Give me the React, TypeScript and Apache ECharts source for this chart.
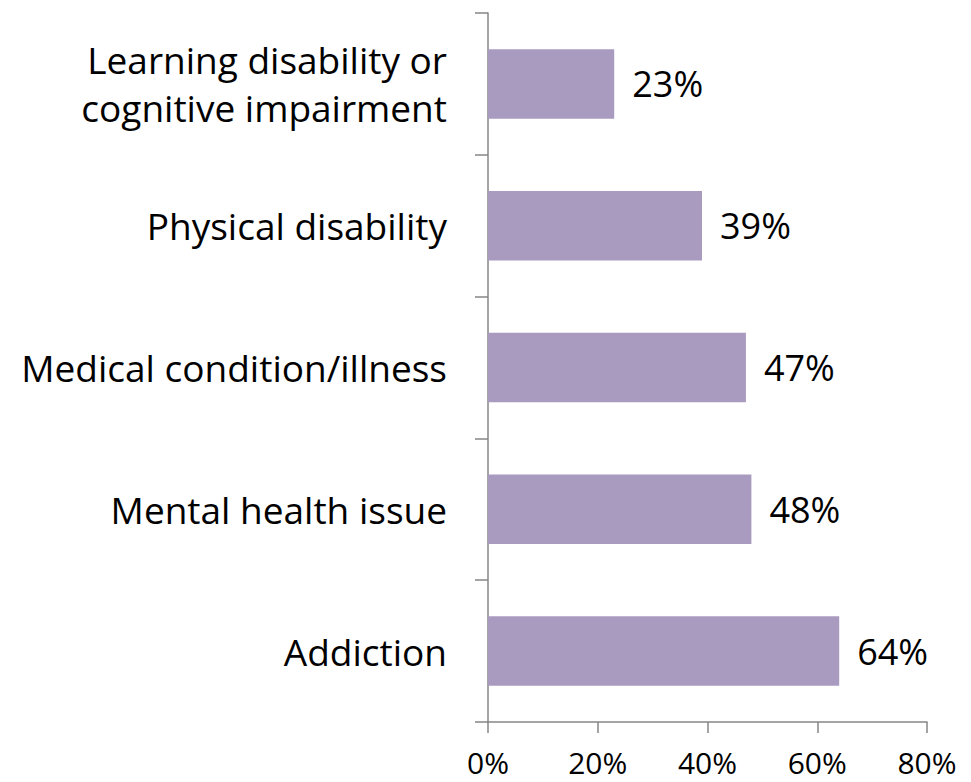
import React, { useEffect, useRef } from "react";
import * as echarts from "echarts";

const categories = [
  "Learning disability or\ncognitive impairment",
  "Physical disability",
  "Medical condition/illness",
  "Mental health issue",
  "Addiction",
];
const values = [23, 39, 47, 48, 64];
const xTicks = { min: 0, max: 80, interval: 20 };

const FONT = "Open Sans";

export default function App() {
  const ref = useRef<HTMLDivElement>(null);
  useEffect(() => {
    const chart = echarts.init(ref.current!, null, { renderer: "svg" });
    chart.setOption({
      animation: false,
      backgroundColor: "#ffffff",
      grid: { left: 488, right: 44, top: 13, bottom: 60, containLabel: false },
      xAxis: {
        type: "value",
        min: xTicks.min,
        max: xTicks.max,
        interval: xTicks.interval,
        axisLine: { show: true, lineStyle: { color: "#868686", width: 1.5 } },
        axisTick: { show: true, length: 11, lineStyle: { color: "#868686", width: 1.5 } },
        splitLine: { show: false },
        axisLabel: {
          formatter: "{value}%",
          color: "#000",
          fontFamily: FONT,
          fontSize: 30,
          lineHeight: 30,
          margin: 25,
        },
      },
      yAxis: {
        type: "category",
        inverse: true,
        data: categories,
        axisLine: { show: true, lineStyle: { color: "#868686", width: 1.5 } },
        axisTick: { show: true, length: 13, lineStyle: { color: "#868686", width: 1.5 } },
        axisLabel: {
          color: "#000",
          fontFamily: FONT,
          fontSize: 37,
          lineHeight: 48,
          margin: 41,
          align: "right",
        },
      },
      series: [
        {
          type: "bar",
          data: values,
          barCategoryGap: "51%",
          itemStyle: { color: "#A99BC0" },
          label: {
            show: true,
            position: "right",
            distance: 18,
            formatter: "{c}%",
            color: "#000",
            fontFamily: FONT,
            fontSize: 36,
          },
        },
      ],
    });
    return () => chart.dispose();
  }, []);
  return (
    <div
      ref={ref}
      style={{ position: "absolute", left: 0, top: 0, width: 971, height: 782 }}
    />
  );
}
